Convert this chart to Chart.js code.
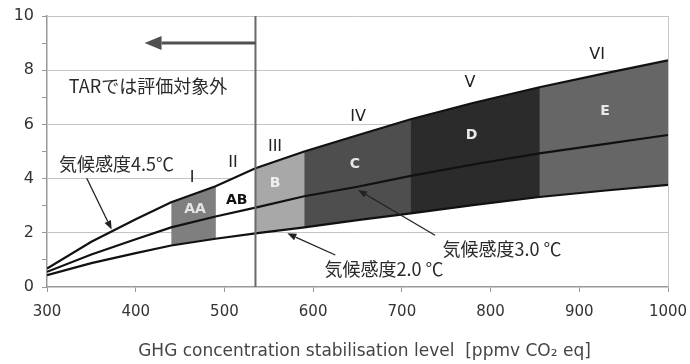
<!DOCTYPE html>
<html>
<head>
<meta charset="utf-8">
<script src="https://cdn.jsdelivr.net/npm/chart.js@4/dist/chart.umd.min.js"></script>
<style>
  html, body { margin: 0; padding: 0; background: #fff; }
  #wrap { width: 690px; height: 364px; }
</style>
</head>
<body>
<div id="wrap"><canvas id="c"></canvas></div>
<script>
// Stabilisation level (ppmv CO2 eq) and equilibrium warming (°C) for three climate sensitivities
const conc   = [300, 350, 400, 440, 490, 535, 590, 650, 710, 780, 855, 930, 1000];
const sens45 = [0.68, 1.67, 2.50, 3.13, 3.72, 4.38, 5.00, 5.60, 6.19, 6.79, 7.37, 7.89, 8.36];
const sens30 = [0.56, 1.20, 1.76, 2.20, 2.60, 2.93, 3.35, 3.70, 4.10, 4.52, 4.93, 5.28, 5.61];
const sens20 = [0.44, 0.88, 1.25, 1.53, 1.78, 1.98, 2.20, 2.47, 2.72, 3.02, 3.32, 3.56, 3.77];

// Stabilisation categories
const bandNames  = ['AA', 'AB', 'B', 'C', 'D', 'E'];
const bandFrom   = [440, 490, 535, 590, 710, 855];
const bandTo     = [490, 535, 590, 710, 855, 1000];
const bandColors = ['#7f7f7f', '#ffffff', '#a8a8a8', '#4e4e4e', '#2b2b2b', '#666666'];
const bandText   = ['#e4e4e4', '#111111', '#f0f0f0', '#e8e8e8', '#e8e8e8', '#e8e8e8'];
const bandLabelAt = [[466.8, 2.85], [513.8, 3.21], [557, 3.83], [647, 4.54], [778.7, 5.61], [929, 6.47]];

// Category numerals I–VI
const romanLabels = ['I', 'II', 'III', 'IV', 'V', 'VI'];
const romanAt     = [[463.5, 4.02], [509.7, 4.58], [557, 5.17], [650.6, 6.27], [776.8, 7.52], [920, 8.55]];

// Tick values
const xTicks = [300, 400, 500, 600, 700, 800, 900, 1000];
const yTicks = [0, 2, 4, 6, 8, 10];

// Lower limit assessed in TAR
const tarLimit = 535;
const tarArrow = { y: 9.0, to: 410 };
const tarText = 'TARでは評価対象外';
const tarTextAt = [413.9, 7.41];

// Sensitivity callouts: label, label position, arrow tail, arrow tip
const callouts = [
  { text: '気候感度4.5℃',  at: [378.3, 4.52], tail: [344.8, 4.01], tip: [372.9, 2.12] },
  { text: '気候感度3.0 ℃', at: [812.9, 1.39], tail: [737.4, 1.91], tip: [650.6, 3.58] },
  { text: '気候感度2.0 ℃', at: [679.9, 0.64], tail: [625.0, 1.18], tip: [570.9, 1.98] }
];

const xTitle = 'GHG concentration stabilisation level  [ppmv CO₂ eq]';

const pts = (ys, from, to) => conc
  .map((c, i) => ({ x: c, y: ys[i] }))
  .filter(p => (from === undefined || p.x >= from) && (to === undefined || p.x <= to));

const curveStyle = { borderColor: '#111', borderWidth: 2.2, pointRadius: 0, tension: 0, fill: false };
const datasets = [
  Object.assign({ label: '4.5', data: pts(sens45) }, curveStyle),
  Object.assign({ label: '3.0', data: pts(sens30) }, curveStyle),
  Object.assign({ label: '2.0', data: pts(sens20) }, curveStyle)
];
// Each band is filled from its own start to the right end; later bands are painted
// over earlier ones, so neighbouring bands meet without a hairline gap.
for (let i = bandNames.length - 1; i >= 0; i--) {
  datasets.push({
    label: bandNames[i] + ' upper', data: pts(sens45, bandFrom[i]),
    borderWidth: 0, pointRadius: 0, tension: 0,
    backgroundColor: bandColors[i], fill: '+1'
  });
  datasets.push({
    label: bandNames[i] + ' lower', data: pts(sens20, bandFrom[i]),
    borderWidth: 0, pointRadius: 0, tension: 0, fill: false
  });
}

function arrow(ctx, x1, y1, x2, y2, len, half, lw, color) {
  const ang = Math.atan2(y2 - y1, x2 - x1);
  const bx = x2 - Math.cos(ang) * len, by = y2 - Math.sin(ang) * len;
  ctx.strokeStyle = color; ctx.fillStyle = color; ctx.lineWidth = lw;
  ctx.beginPath(); ctx.moveTo(x1, y1); ctx.lineTo(bx, by); ctx.stroke();
  ctx.beginPath();
  ctx.moveTo(x2, y2);
  ctx.lineTo(bx + Math.sin(ang) * half, by - Math.cos(ang) * half);
  ctx.lineTo(bx - Math.sin(ang) * half, by + Math.cos(ang) * half);
  ctx.closePath(); ctx.fill();
}

const overlay = {
  id: 'overlay',
  afterDatasetsDraw(chart) {
    const { ctx, chartArea: a, scales: { x, y } } = chart;
    const P = (v) => [x.getPixelForValue(v[0]), y.getPixelForValue(v[1])];
    ctx.save();

    // plot frame on the right
    ctx.strokeStyle = '#c8c8c8'; ctx.lineWidth = 1;
    ctx.beginPath(); ctx.moveTo(Math.round(a.right) + 0.5, a.top); ctx.lineTo(Math.round(a.right) + 0.5, a.bottom); ctx.stroke();

    // TAR limit line and arrow
    const lx = x.getPixelForValue(tarLimit);
    ctx.strokeStyle = '#6a6a6a'; ctx.lineWidth = 2;
    ctx.beginPath(); ctx.moveTo(lx, a.top); ctx.lineTo(lx, a.bottom); ctx.stroke();
    const ay = y.getPixelForValue(tarArrow.y);
    arrow(ctx, lx, ay, x.getPixelForValue(tarArrow.to), ay, 17, 7, 3, '#505050');

    ctx.textAlign = 'center'; ctx.textBaseline = 'middle';

    // TAR note
    ctx.fillStyle = '#2a2a2a';
    ctx.font = '18px "Noto Sans CJK JP"';
    let p = P(tarTextAt); ctx.fillText(tarText, p[0], p[1]);

    // category letters
    ctx.font = 'bold 14px "DejaVu Sans"';
    bandNames.forEach((n, i) => {
      ctx.fillStyle = bandText[i];
      const q = P(bandLabelAt[i]); ctx.fillText(n, q[0], q[1]);
    });

    // category numerals
    ctx.font = '16px "DejaVu Sans"'; ctx.fillStyle = '#222';
    romanLabels.forEach((r, i) => { const q = P(romanAt[i]); ctx.fillText(r, q[0], q[1]); });

    // sensitivity callouts
    callouts.forEach(c => {
      const t = P(c.tail), h = P(c.tip);
      arrow(ctx, t[0], t[1], h[0], h[1], 9, 3.5, 1.3, '#222');
      ctx.fillStyle = '#2a2a2a';
      ctx.font = '18px "Noto Sans CJK JP"';
      const q = P(c.at); ctx.fillText(c.text, q[0], q[1]);
    });

    // x axis title
    ctx.fillStyle = '#444';
    ctx.font = '17px "DejaVu Sans"';
    ctx.fillText(xTitle, (a.left + a.right) / 2 + 7, a.bottom + 65);

    ctx.restore();
  }
};

new Chart(document.getElementById('c'), {
  type: 'line',
  data: { datasets },
  options: {
    responsive: true, maintainAspectRatio: false, animation: false,
    layout: { padding: { top: 16, right: 22, left: 0, bottom: 0 } },
    plugins: { legend: { display: false }, tooltip: { enabled: false } },
    scales: {
      x: {
        type: 'linear', min: 300, max: 1000,
        afterFit: s => { s.height = 77; s.paddingLeft = 0; s.paddingRight = 0; },
        afterBuildTicks: s => { s.ticks = xTicks.map(v => ({ value: v })); },
        grid: { drawOnChartArea: false, tickLength: 5, tickColor: '#999' },
        border: { color: '#999', width: 1.5 },
        ticks: {
          color: '#333', font: { family: 'DejaVu Sans', size: 15 }, padding: 11, maxRotation: 0,
          callback: v => String(v)
        }
      },
      y: {
        min: 0, max: 10,
        afterFit: s => { s.width = 47; s.paddingTop = 0; s.paddingBottom = 0; },
        afterBuildTicks: s => {
          const t = [];
          for (let v = 0; v <= 10; v++) t.push({ value: v });
          s.ticks = t;
        },
        grid: {
          color: c => (yTicks.includes(c.tick.value) && c.tick.value > 0 ? '#c4c4c4' : 'rgba(0,0,0,0)'),
          tickColor: '#999', tickLength: 5
        },
        border: { color: '#999', width: 1.5 },
        ticks: {
          color: '#333', font: { family: 'DejaVu Sans', size: 16 }, padding: 8,
          callback: v => (yTicks.includes(v) ? String(v) : '')
        }
      }
    }
  },
  plugins: [overlay]
});
</script>
</body>
</html>
